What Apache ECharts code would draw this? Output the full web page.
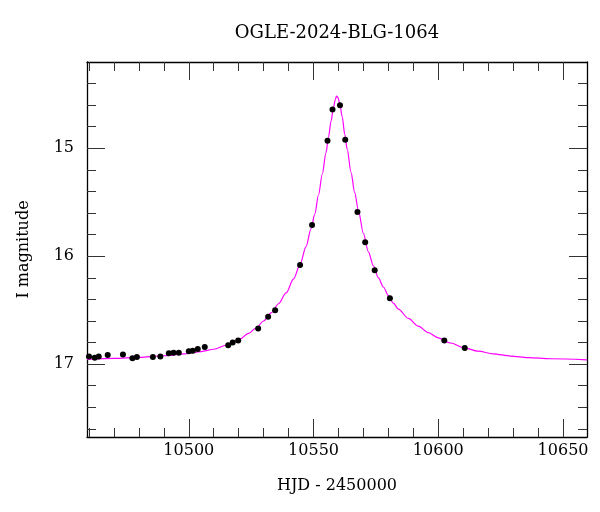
<!DOCTYPE html>
<html>
<head>
<meta charset="utf-8">
<script src="https://cdn.jsdelivr.net/npm/echarts@6/dist/echarts.min.js"></script>
<style>html,body{margin:0;padding:0;background:#fff}#c{width:600px;height:512px}</style>
</head>
<body>
<div id="c"></div>
<script>
// ---- data ----
const titleText = "OGLE-2024-BLG-1064";
const xName = "HJD - 2450000";
const yName = "I magnitude";

// observed points: HJD-2450000 and I magnitude
const obsHJD = [10460.0,10462.3,10463.9,10467.5,10473.6,10477.4,10479.2,10485.6,10488.6,10492.0,10493.9,10496.0,10500.0,10501.6,10503.6,10506.4,10515.8,10517.6,10519.8,10527.8,10531.8,10534.6,10544.6,10549.4,10555.6,10557.6,10560.6,10562.7,10567.6,10570.7,10574.5,10580.6,10602.4,10610.6];
const obsMag = [16.93,16.94,16.93,16.915,16.91,16.946,16.934,16.934,16.93,16.90,16.895,16.895,16.88,16.875,16.86,16.84,16.825,16.80,16.78,16.67,16.56,16.50,16.08,15.71,14.93,14.64,14.60,14.92,15.59,15.87,16.13,16.39,16.78,16.85];

// model curve
const modelHJD = [10459.2,10470,10480,10490,10498,10505,10510,10515,10520,10524,10527,10530,10533,10536,10539,10542,10544.6,10547,10549,10550.5,10552,10553.5,10555,10556,10557,10558,10558.7,10559.2,10559.8,10560.5,10561.5,10562.5,10563.5,10565,10566.5,10568,10570,10572,10574,10576,10578,10580,10582,10584,10588,10592,10596,10600,10605,10610,10616,10622,10629,10636,10645,10659.6];
const modelMag = [16.955,16.947,16.937,16.922,16.905,16.883,16.862,16.825,16.775,16.715,16.665,16.60,16.525,16.44,16.34,16.21,16.075,15.91,15.745,15.61,15.43,15.24,15.04,14.895,14.75,14.62,14.55,14.515,14.53,14.585,14.71,14.87,15.01,15.22,15.41,15.58,15.79,15.96,16.09,16.20,16.285,16.365,16.435,16.49,16.576,16.648,16.708,16.756,16.804,16.846,16.88,16.904,16.925,16.94,16.95,16.96];

// tick values
const xMajor = [10500,10550,10600,10650];
const xMinor = [10460,10470,10480,10490,10510,10520,10530,10540,10560,10570,10580,10590,10610,10620,10630,10640];
const yMajor = [15,16,17];
const yMinor = [14.4,14.6,14.8,15.2,15.4,15.6,15.8,16.2,16.4,16.6,16.8,17.2,17.4,17.6];

// ---- chart ----
const FONT = "DejaVu Serif";
const xMin = 10459.2, xMax = 10659.6, yMin = 14.2, yMax = 17.675;
const tickColor = '#333';

function xAx(pos, ticks, len, withLabel, lineShow) {
  const a = {
    type: 'value', position: pos, min: xMin, max: xMax,
    axisLine: { show: lineShow, onZero: false, lineStyle: { color: '#000', width: 1.3 } },
    axisTick: { show: true, inside: true, length: len, customValues: ticks, lineStyle: { color: tickColor, width: 1 } },
    axisLabel: { show: withLabel, customValues: ticks, formatter: v => String(v), fontFamily: FONT, fontSize: 16, color: '#000', margin: 6 },
    splitLine: { show: false }
  };
  if (withLabel) {
    a.name = xName; a.nameLocation = 'middle'; a.nameGap = 41;
    a.nameTextStyle = { fontFamily: FONT, fontSize: 16, color: '#000' };
  }
  return a;
}
function yAx(pos, ticks, len, withLabel, lineShow) {
  const a = {
    type: 'value', position: pos, min: yMin, max: yMax, inverse: true,
    axisLine: { show: lineShow, onZero: false, lineStyle: { color: '#000', width: 1.3 } },
    axisTick: { show: true, inside: true, length: len, customValues: ticks, lineStyle: { color: tickColor, width: 1 } },
    axisLabel: { show: withLabel, customValues: ticks, formatter: v => String(v), fontFamily: FONT, fontSize: 16, color: '#000', margin: 13 },
    splitLine: { show: false }
  };
  if (withLabel) {
    a.name = yName; a.nameLocation = 'middle'; a.nameGap = 55;
    a.nameTextStyle = { fontFamily: FONT, fontSize: 16, color: '#000' };
  }
  return a;
}

const chart = echarts.init(document.getElementById('c'), null, { renderer: 'canvas' });
chart.setOption({
  animation: false,
  backgroundColor: '#fff',
  title: {
    text: titleText, left: 337, top: 24, textAlign: 'center', padding: 0,
    textStyle: { fontFamily: FONT, fontSize: 18, fontWeight: 'normal', color: '#000' }
  },
  grid: { left: 87, top: 62, width: 500, height: 375, containLabel: false },
  xAxis: [
    xAx('bottom', xMajor, 18, true, true),
    xAx('bottom', xMinor, 9, false, false),
    xAx('top', xMajor, 18, false, true),
    xAx('top', xMinor, 9, false, false)
  ],
  yAxis: [
    yAx('left', yMajor, 18, true, true),
    yAx('left', yMinor, 9, false, false),
    yAx('right', yMajor, 18, false, true),
    yAx('right', yMinor, 9, false, false)
  ],
  series: [
    {
      type: 'line', xAxisIndex: 0, yAxisIndex: 0,
      data: modelHJD.map((x, i) => [x, modelMag[i]]),
      showSymbol: false, smooth: 0.3, smoothMonotone: 'x',
      lineStyle: { color: '#ff00ff', width: 1.2 }, z: 2, silent: true
    },
    {
      type: 'scatter', xAxisIndex: 0, yAxisIndex: 0,
      data: obsHJD.map((x, i) => [x, obsMag[i]]),
      symbol: 'circle', symbolSize: 6,
      itemStyle: { color: '#000', opacity: 1 }, z: 3
    }
  ]
});
</script>
</body>
</html>
